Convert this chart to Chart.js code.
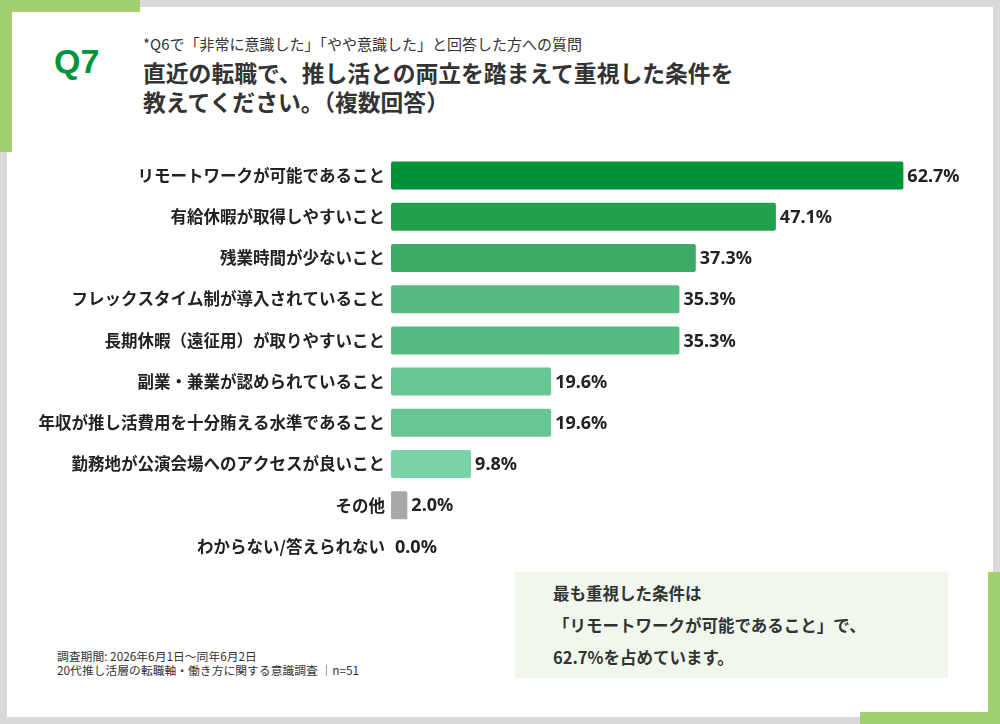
<!DOCTYPE html>
<html>
<head>
<meta charset="utf-8">
<script src="https://cdn.jsdelivr.net/npm/chart.js@4"></script>
<style>
  html, body { margin: 0; padding: 0; }
  body { width: 1000px; height: 724px; background: #d9d9d9; position: relative; overflow: hidden;
         font-family: "Noto Sans CJK JP", "Noto Sans", sans-serif; color: #333; }
  .panel { position: absolute; left: 7px; top: 7px; width: 986px; height: 710px; background: #fff; }
  .accent { position: absolute; background: #a2d06f; }
  .txt { position: absolute; white-space: nowrap; }
  #chartBox { position: absolute; left: 0; top: 139px; width: 1000px; height: 444px; }
</style>
</head>
<body>
<div class="panel"></div>
<div class="accent" style="left:0;top:0;width:140px;height:12px"></div>
<div class="accent" style="left:0;top:0;width:12px;height:152px"></div>
<div class="accent" style="left:988px;top:572px;width:12px;height:152px"></div>
<div class="accent" style="left:860px;top:712px;width:140px;height:12px"></div>

<div class="txt" style="left:54px;top:41px;font-size:34px;line-height:40px;font-weight:700;color:#00943c;font-family:'Liberation Sans',Arial,sans-serif">Q7</div>
<div class="txt" style="left:143px;top:33px;font-size:15px;color:#333">*Q6で「非常に意識した」「やや意識した」と回答した方への質問</div>
<div class="txt" style="left:143px;top:58px;font-size:22.8px;font-weight:700;line-height:29px;color:#333">直近の転職で、推し活との両立を踏まえて重視した条件を<br>教えてください。（複数回答）</div>

<div id="chartBox"><canvas id="barChart"></canvas></div>

<div class="txt" style="left:515px;top:572px;width:433px;height:106px;background:#f2f7ed"></div>
<div class="txt" style="left:553px;top:577px;font-size:16.5px;font-weight:700;line-height:32px;color:#333">最も重視した条件は<br>「リモートワークが可能であること」で、<br>62.7%を占めています。</div>

<div class="txt" style="left:57px;top:649px;font-size:11.8px;line-height:14px;color:#333">調査期間: 2026年6月1日～同年6月2日<br>20代推し活層の転職軸・働き方に関する意識調査 ｜n=51</div>

<script>
// categories and values (%)
var labels = [
    'リモートワークが可能であること',
    '有給休暇が取得しやすいこと',
    '残業時間が少ないこと',
    'フレックスタイム制が導入されていること',
    '長期休暇（遠征用）が取りやすいこと',
    '副業・兼業が認められていること',
    '年収が推し活費用を十分賄える水準であること',
    '勤務地が公演会場へのアクセスが良いこと',
    'その他',
    'わからない/答えられない'
];
var values = [62.7, 47.1, 37.3, 35.3, 35.3, 19.6, 19.6, 9.8, 2.0, 0.0];
var barColors = ['#009236', '#22a04d', '#3dab68', '#56ba81', '#56ba81', '#68c594', '#68c594', '#7ad2a7', '#a8a8a8', '#a8a8a8'];

// draw the % value at the end of each bar
var valueLabels = {
    id: 'valueLabels',
    afterDatasetsDraw: function(chart) {
        var ctx = chart.ctx;
        var meta = chart.getDatasetMeta(0);
        ctx.save();
        ctx.font = 'bold 18px "Noto Sans", "Noto Sans CJK JP", sans-serif';
        ctx.fillStyle = '#222';
        ctx.textAlign = 'left';
        ctx.textBaseline = 'middle';
        meta.data.forEach(function(bar, i) {
            ctx.fillText(values[i].toFixed(1) + '%', bar.x + 4, bar.y + 1);
        });
        ctx.restore();
    }
};

var ctx = document.getElementById('barChart').getContext('2d');
window.myChart = new Chart(ctx, {
    type: 'bar',
    data: {
        labels: labels,
        datasets: [{
            data: values,
            backgroundColor: barColors,
            borderRadius: 2,
            borderSkipped: false,
            categoryPercentage: 1,
            barPercentage: 0.68
        }]
    },
    options: {
        indexAxis: 'y',
        responsive: true,
        maintainAspectRatio: false,
        animation: false,
        layout: { padding: { top: 4, bottom: 4, right: 37, left: 0 } },
        plugins: { legend: { display: false }, tooltip: { enabled: false } },
        scales: {
            x: { display: false, min: 0, max: 70 },
            y: {
                afterFit: function(scale) { scale.width = 391; },
                grid: { display: false, drawTicks: false },
                border: { display: false },
                ticks: {
                    padding: 6,
                    color: '#222',
                    font: { family: '"Noto Sans CJK JP", sans-serif', size: 16.5, weight: 'bold' }
                }
            }
        }
    },
    plugins: [valueLabels]
});
</script>
</body>
</html>
